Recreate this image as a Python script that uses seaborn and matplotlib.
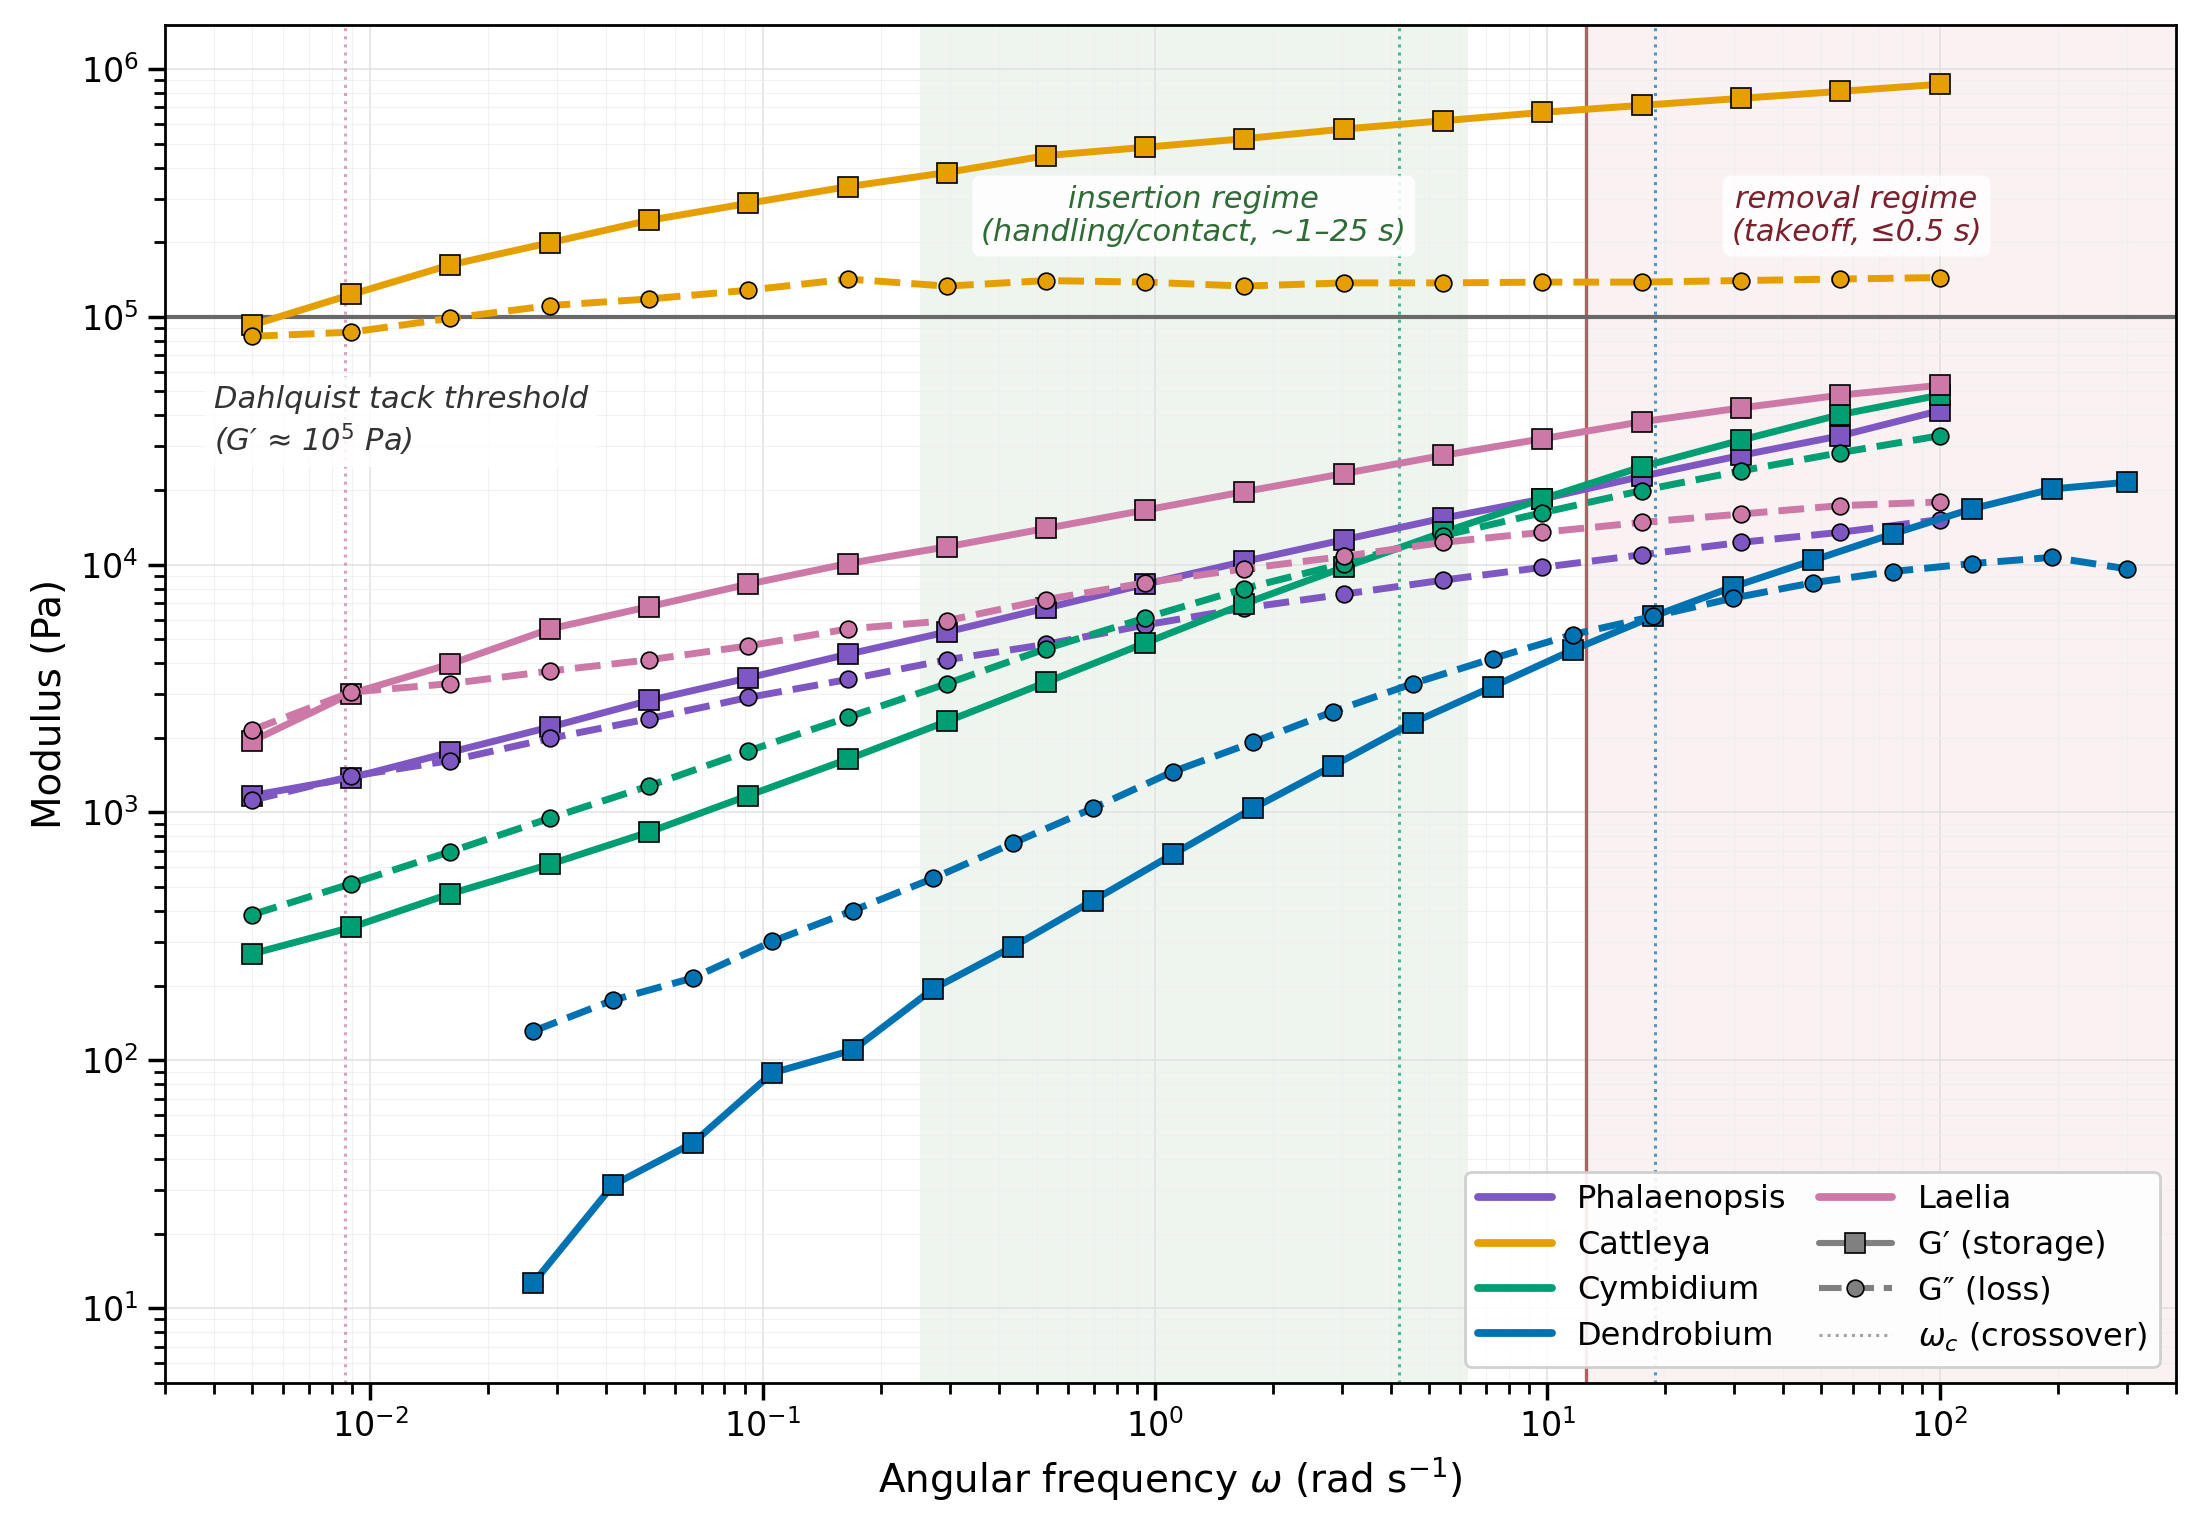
import numpy as np
import matplotlib
matplotlib.use("Agg")
import matplotlib.pyplot as plt
import seaborn as sns
from matplotlib.lines import Line2D

sns.set_theme(style="ticks")
plt.rcParams['font.family'] = ['DejaVu Sans']
plt.rcParams.update({"text.color": "black", "axes.labelcolor": "black",
                     "xtick.color": "black", "ytick.color": "black"})

# shared frequency grid (rad/s) for most species
omega = [0.005, 0.00895, 0.0160, 0.0287, 0.0514, 0.0920, 0.165, 0.295, 0.528,
         0.946, 1.69, 3.03, 5.43, 9.72, 17.4, 31.2, 55.8, 100.0]
# Dendrobium has its own grid
omega_dend = [0.026, 0.0416, 0.0665, 0.106, 0.170, 0.272, 0.434, 0.695, 1.11,
              1.78, 2.84, 4.54, 7.26, 11.6, 18.6, 29.7, 47.5, 75.9, 121.0, 194.0, 300.0]

species = ["Phalaenopsis", "Cattleya", "Cymbidium", "Dendrobium", "Laelia"]
colors = ["#7E57C2", "#E69F00", "#009E73", "#0072B2", "#CC79A7"]

g1_phal = [1170, 1380, 1750, 2210, 2830, 3490, 4350, 5350, 6680, 8340, 10300,
           12600, 15400, 18400, 22700, 27600, 33100, 41800]
g2_phal = [1120, 1400, 1620, 1990, 2390, 2910, 3440, 4130, 4770, 5710, 6680,
           7600, 8660, 9750, 10960, 12300, 13500, 15200]
g1_catt = [92500, 123000, 162000, 199000, 245000, 287000, 335000, 382000, 447000,
           483000, 523000, 572000, 618000, 668000, 713000, 761000, 812000, 867000]
g2_catt = [83400, 86700, 98600, 111000, 118000, 128000, 142000, 133000, 140000,
           138000, 133000, 137000, 137000, 138000, 138000, 140000, 142000, 144000]
g1_cymb = [269, 344, 470, 618, 834, 1170, 1640, 2330, 3350, 4830, 6950, 9750,
           13500, 18400, 24800, 31800, 40300, 48300]
g2_cymb = [387, 516, 695, 948, 1280, 1770, 2420, 3310, 4580, 6100, 8010, 10100,
           13100, 16200, 19900, 23900, 28300, 33100]
g1_dend = [12.6, 31.4, 46.4, 89, 110, 194, 287, 441, 677, 1040, 1540, 2300, 3220,
           4520, 6180, 8130, 10400, 13300, 16800, 20200, 21500]
g2_dend = [131, 175, 215, 302, 402, 542, 751, 1040, 1460, 1920, 2550, 3310, 4180,
           5220, 6180, 7320, 8450, 9380, 10100, 10700, 9620]
g1_lael = [1940, 3020, 3970, 5500, 6770, 8340, 10100, 11800, 14000, 16600, 19700,
           23300, 27600, 32200, 37700, 42900, 48300, 52900]
g2_lael = [2150, 3060, 3310, 3720, 4130, 4700, 5500, 5940, 7230, 8450, 9620,
           10800, 12300, 13500, 14800, 16000, 17300, 17900]

# crossover frequencies (only species with a visible crossover)
crossover_species = ["Laelia", "Cymbidium", "Dendrobium"]
crossover_omega = [0.00862, 4.18, 18.8]

insertion_span = [2 * np.pi / 25, 2 * np.pi / 1]
removal_start = 2 * np.pi / 0.5
tack_threshold = 1e5

storage = [g1_phal, g1_catt, g1_cymb, g1_dend, g1_lael]
loss = [g2_phal, g2_catt, g2_cymb, g2_dend, g2_lael]
grids = [omega, omega, omega, omega_dend, omega]

fig, ax = plt.subplots(figsize=(11, 7.665), dpi=200)
fig.subplots_adjust(left=0.075, right=0.989, top=0.9835, bottom=0.098)

ax.set_xscale("log")
ax.set_yscale("log")
ax.set_xlim(3e-3, 4e2)
ax.set_ylim(5, 1.5e6)

ax.axvspan(*insertion_span, color="#2e8b3a", alpha=0.08, lw=0, zorder=0)
ax.axvspan(removal_start, 4e2, color="#b04050", alpha=0.07, lw=0, zorder=0)
ax.axvline(removal_start, color="#a85050", lw=1.2, alpha=0.9, zorder=1)
ax.axhline(tack_threshold, color="dimgray", lw=1.5, zorder=1)

cmap = dict(zip(species, colors))
for sp, w in zip(crossover_species, crossover_omega):
    ax.axvline(w, color=cmap[sp], ls=":", lw=1.1, alpha=0.7, zorder=1)

for sp, c, x, g1, g2 in zip(species, colors, grids, storage, loss):
    sns.lineplot(x=x, y=g1, ax=ax, color=c, lw=2.5, marker="s", markersize=7,
                 markeredgecolor="black", markeredgewidth=0.6, zorder=3)
    sns.lineplot(x=x, y=g2, ax=ax, color=c, lw=2.5, ls="--", marker="o",
                 markersize=6, markeredgecolor="black", markeredgewidth=0.6,
                 zorder=3)

ax.grid(which="major", color="#dddddd", lw=0.6, alpha=0.8)
ax.grid(which="minor", color="#eeeeee", lw=0.4, alpha=0.8)
ax.set_axisbelow(True)

box = dict(boxstyle="round,pad=0.3", fc="white", ec="none", alpha=0.85)
ax.text(0.004, 5.3e4, "Dahlquist tack threshold\n(G\u2032 \u2248 10$^5$ Pa)",
        ha="left", va="top", style="italic", fontsize=11, color="#333333",
        bbox=dict(boxstyle="square,pad=0.3", fc="white", ec="none", alpha=0.85),
        linespacing=1.25)
ax.text(np.sqrt(insertion_span[0] * insertion_span[1]), 2.55e5,
        "insertion regime\n(handling/contact, ~1\u201325 s)", ha="center", va="center",
        style="italic", fontsize=11, color="#2f6b35", bbox=box)
ax.text(np.sqrt(removal_start * 300), 2.55e5,
        "removal regime\n(takeoff, \u22640.5 s)", ha="center", va="center",
        style="italic", fontsize=11, color="#7a1f2b", bbox=box)

ax.set_xlabel("Angular frequency $\\omega$ (rad s$^{-1}$)", fontsize=14)
ax.set_ylabel("Modulus (Pa)", fontsize=14)
ax.tick_params(axis="both", which="major", labelsize=12)
for s in ax.spines.values():
    s.set_color("black")
    s.set_linewidth(1.0)

handles = [Line2D([], [], color=c, lw=2.8) for c in colors]
labels = list(species)
handles += [
    Line2D([], [], color="gray", lw=2.2, marker="s", markersize=7,
           markerfacecolor="gray", markeredgecolor="black", markeredgewidth=0.6),
    Line2D([], [], color="gray", lw=2.2, ls="--", marker="o", markersize=6,
           markerfacecolor="gray", markeredgecolor="black", markeredgewidth=0.6),
    Line2D([], [], color="gray", lw=1.1, ls=":", alpha=0.7),
]
labels += ["G\u2032 (storage)", "G\u2033 (loss)", "$\\omega_c$ (crossover)"]
ax.legend(handles, labels, loc="lower right", ncol=2, fontsize=11.5,
          frameon=True, framealpha=0.9, edgecolor="#cccccc", handlelength=2.3,
          columnspacing=1.0, labelspacing=0.45)

fig.savefig("out.png", dpi=200)
